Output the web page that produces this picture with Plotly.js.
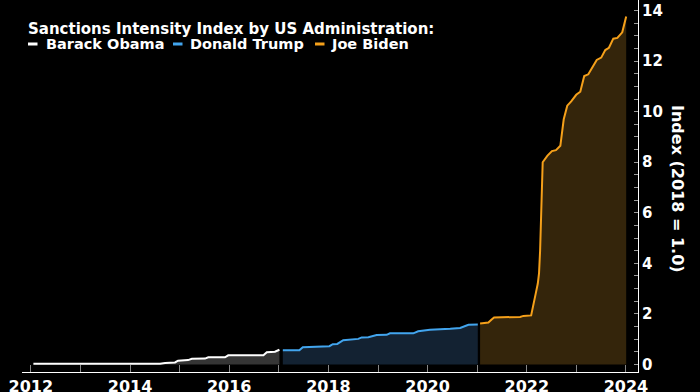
<!DOCTYPE html>
<html>
<head>
<meta charset="utf-8">
<script src="https://cdn.plot.ly/plotly-3.0.1.min.js"></script>
<style>html,body{margin:0;padding:0;background:#000;}#chart{width:700px;height:392px;}</style>
</head>
<body>
<div id="chart"></div>
<script>
// Sanctions Intensity Index (2018 = 1.0)
const obamaDates = ['2012-01-20','2014-08-10','2014-09-16','2014-11-28','2014-12-20','2015-03-04','2015-04-01','2015-07-07','2015-07-31','2015-12-01','2015-12-25','2016-09-09','2016-10-04','2016-12-03','2017-01-05'];
const obamaValues = [0.03,0.03,0.06,0.08,0.15,0.17,0.22,0.23,0.28,0.28,0.36,0.36,0.48,0.50,0.58];

const trumpDates = ['2017-01-30','2017-06-01','2017-06-26','2017-09-12','2017-10-07','2018-01-08','2018-02-02','2018-03-07','2018-04-20','2018-06-09','2018-08-09','2018-09-03','2018-10-22','2018-12-22','2019-03-06','2019-03-30','2019-09-18','2019-10-24','2019-12-01','2020-01-19','2020-06-16','2020-08-28','2020-10-28','2021-01-05'];
const trumpValues = [0.56,0.56,0.68,0.69,0.72,0.72,0.80,0.81,0.96,0.99,1.01,1.07,1.08,1.16,1.17,1.23,1.23,1.31,1.33,1.37,1.41,1.44,1.57,1.58];

const bidenDates = ['2021-01-22','2021-03-24','2021-04-17','2021-05-05','2021-11-13','2021-12-07','2022-02-02','2022-02-18','2022-03-08','2022-03-23','2022-04-01','2022-04-09','2022-04-16','2022-04-28','2022-06-01','2022-07-05','2022-08-04','2022-09-05','2022-09-30','2022-10-26','2022-11-24','2022-12-31','2023-01-30','2023-02-28','2023-03-30','2023-05-31','2023-07-03','2023-08-02','2023-08-29','2023-09-30','2023-10-30','2023-12-05','2024-01-03'];
const bidenValues = [1.62,1.66,1.78,1.86,1.88,1.92,1.94,2.41,2.81,3.20,3.60,4.50,6.00,8.00,8.25,8.44,8.48,8.65,9.70,10.24,10.41,10.67,10.79,11.41,11.48,12.05,12.14,12.44,12.53,12.89,12.92,13.14,13.77];

const seriesNames = ['Barack Obama','Donald Trump','Joe Biden'];
const titleText = 'Sanctions Intensity Index by US Administration:';
const yTitleText = 'Index (2018 = 1.0)';

const lineColors = ['#ffffff','#42a5ee','#f5a01a'];
const fillColors = ['#353535','#132232','#34250b'];
const FONT = 'DejaVu Sans, Verdana, sans-serif';

const W = 700, H = 392, ML = 22, MR = 62, MT = 0, MB = 20;
const PW = W - ML - MR, PH = H - MT - MB;
const px = x => (x - ML) / PW;       // pixel -> paper x
const py = y => 1 - (y - MT) / PH;   // pixel -> paper y

function tr(x, y, i) {
  return {x: x, y: y, type: 'scatter', mode: 'lines', name: seriesNames[i],
    line: {color: lineColors[i], width: 2}, fill: 'tozeroy', fillcolor: fillColors[i],
    showlegend: false, hoverinfo: 'x+y'};
}
const data = [tr(obamaDates, obamaValues, 0), tr(trumpDates, trumpValues, 1), tr(bidenDates, bidenValues, 2)];

// legend key layout (pixel positions of key dash and label start)
const keyDashX = [28, 173, 315];
const keyLabelX = [44, 188, 328.5];
const keyY = 44;

const annotations = [
  {text: titleText, xref: 'paper', yref: 'paper', x: px(25.5), y: py(29),
   xanchor: 'left', yanchor: 'middle', showarrow: false,
   font: {family: FONT, size: 15, color: '#fff', weight: 'bold'}},
  {text: yTitleText, xref: 'paper', yref: 'paper', x: px(678), y: py(189),
   xanchor: 'center', yanchor: 'middle', textangle: 90, showarrow: false,
   font: {family: FONT, size: 16, color: '#fff', weight: 'bold'}}
];
const shapes = [];
seriesNames.forEach((n, i) => {
  annotations.push({text: n, xref: 'paper', yref: 'paper', x: px(keyLabelX[i]), y: py(keyY),
    xanchor: 'left', yanchor: 'middle', showarrow: false,
    font: {family: FONT, size: 14.5, color: '#fff', weight: 'bold'}});
  shapes.push({type: 'line', xref: 'paper', yref: 'paper',
    x0: px(keyDashX[i]), x1: px(keyDashX[i] + 9.5), y0: py(keyY), y1: py(keyY),
    line: {color: lineColors[i], width: 3}});
});

const layout = {
  width: W, height: H,
  paper_bgcolor: '#000', plot_bgcolor: '#000',
  margin: {l: ML, r: MR, t: MT, b: MB},
  font: {family: FONT, color: '#fff', size: 15, weight: 'bold'},
  showlegend: false,
  xaxis: {
    type: 'date', range: ['2011-10-28', '2024-03-30'],
    dtick: 'M24', tickformat: '%Y', ticks: 'inside', ticklen: 7, tickcolor: '#888', tickwidth: 1,
    minor: {dtick: 'M12', ticks: 'inside', ticklen: 7, tickcolor: '#888', tickwidth: 1},
    showgrid: false, zeroline: false, showline: true, linecolor: '#fff', linewidth: 1,
    tickfont: {family: FONT, size: 16, color: '#fff', weight: 'bold'}
  },
  yaxis: {
    side: 'right', range: [-0.3, 14.42], dtick: 2, ticks: 'inside', ticklen: 4, tickcolor: '#999',
    minor: {dtick: 0.5, ticks: 'inside', ticklen: 4, tickcolor: '#999'},
    showgrid: false, zeroline: false, showline: true, linecolor: '#fff', linewidth: 1,
    tickfont: {family: FONT, size: 15, color: '#fff', weight: 'bold'}
  },
  annotations: annotations,
  shapes: shapes
};

Plotly.newPlot('chart', data, layout, {displayModeBar: false, staticPlot: true});
</script>
</body>
</html>
